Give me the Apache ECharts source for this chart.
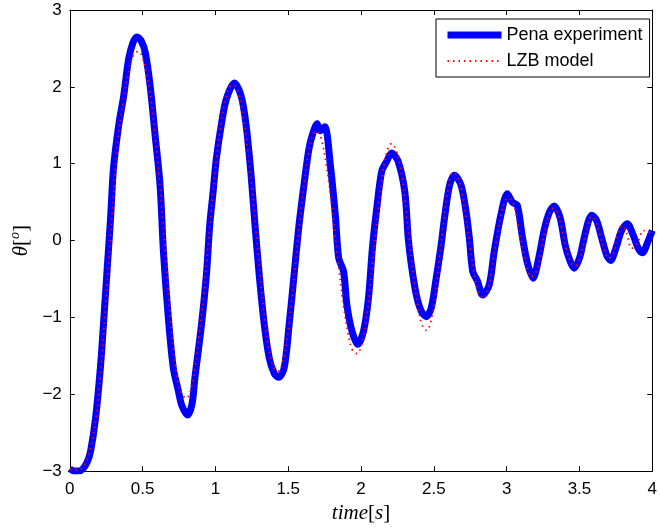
<!DOCTYPE html>
<html>
<head>
<meta charset="utf-8">
<script src="https://cdn.jsdelivr.net/npm/echarts@6/dist/echarts.min.js"></script>
<style>html,body{margin:0;padding:0;background:#fff}#c{width:660px;height:529px}</style>
</head>
<body>
<div id="c"></div>
<script>
var xTicks = [0, 0.5, 1, 1.5, 2, 2.5, 3, 3.5, 4];
var yTicks = [-3, -2, -1, 0, 1, 2, 3];
var seriesNames = ['Pena experiment', 'LZB model'];

var penaT = [0,0.03,0.06,0.09,0.12,0.143,0.177,0.21,0.234,0.257,0.28,0.30,0.336,0.37,0.404,0.435,0.461,0.49,0.518,0.552,0.586,0.62,0.643,0.677,0.711,0.745,0.77,0.81,0.84,0.859,0.904,0.938,0.961,0.984,1.006,1.04,1.075,1.131,1.177,1.211,1.245,1.272,1.301,1.336,1.37,1.404,1.433,1.472,1.506,1.54,1.574,1.608,1.642,1.67,1.699,1.72,1.751,1.79,1.824,1.847,1.88,1.903,1.938,1.978,2.017,2.051,2.078,2.108,2.142,2.176,2.21,2.255,2.301,2.324,2.346,2.38,2.414,2.448,2.482,2.516,2.55,2.573,2.608,2.642,2.687,2.721,2.744,2.767,2.8,2.835,2.88,2.914,2.96,3.005,3.039,3.073,3.107,3.141,3.182,3.22,3.259,3.296,3.327,3.368,3.402,3.436,3.463,3.5,3.527,3.561,3.584,3.618,3.653,3.687,3.714,3.75,3.789,3.828,3.869,3.903,3.932,3.971,4.0];
var penaV = [-2.97,-3.0,-3.0,-2.97,-2.88,-2.74,-2.31,-1.66,-1.01,-0.36,0.29,0.94,1.5,1.88,2.36,2.58,2.65,2.6,2.45,2.01,1.37,0.72,-0.14,-1.01,-1.66,-1.95,-2.15,-2.27,-2.12,-1.79,-1.1,-0.45,0.2,0.63,1.06,1.5,1.84,2.05,1.88,1.5,0.85,0.2,-0.45,-1.1,-1.53,-1.73,-1.78,-1.66,-1.1,-0.45,0.2,0.72,1.19,1.40,1.52,1.43,1.48,0.97,0.32,-0.23,-0.4,-0.84,-1.18,-1.35,-1.18,-0.75,-0.1,0.42,0.9,1.03,1.14,1.03,0.63,0.03,-0.32,-0.71,-0.92,-0.99,-0.88,-0.49,-0.06,0.29,0.72,0.85,0.72,0.38,0.03,-0.4,-0.53,-0.71,-0.58,-0.15,0.33,0.61,0.5,0.46,0.06,-0.28,-0.49,-0.23,0.15,0.38,0.45,0.29,-0.06,-0.27,-0.36,-0.23,-0.01,0.25,0.33,0.26,0.03,-0.19,-0.26,-0.1,0.13,0.22,0.07,-0.1,-0.16,-0.01,0.13];

var lzbT = [0,0.06,0.1,0.14,0.18,0.21,0.24,0.27,0.30,0.33,0.37,0.41,0.44,0.47,0.50,0.53,0.56,0.59,0.62,0.65,0.68,0.71,0.74,0.77,0.80,0.83,0.86,0.89,0.92,0.95,0.98,1.01,1.04,1.07,1.10,1.13,1.16,1.19,1.22,1.25,1.28,1.31,1.34,1.37,1.40,1.43,1.46,1.49,1.52,1.55,1.58,1.61,1.64,1.67,1.70,1.73,1.76,1.79,1.82,1.85,1.88,1.91,1.94,1.97,2.00,2.03,2.06,2.09,2.12,2.15,2.18,2.21,2.24,2.27,2.30,2.33,2.36,2.39,2.42,2.45,2.48,2.51,2.54,2.57,2.60,2.63,2.66,2.69,2.72,2.75,2.78,2.81,2.84,2.87,2.90,2.93,2.96,2.99,3.02,3.05,3.08,3.11,3.14,3.17,3.20,3.23,3.26,3.29,3.32,3.35,3.38,3.41,3.44,3.47,3.50,3.53,3.56,3.58,3.61,3.64,3.67,3.70,3.73,3.76,3.79,3.82,3.86,3.90,3.94,3.97,4.00];
var lzbV = [-2.98,-2.98,-2.92,-2.72,-2.3,-1.75,-1.0,-0.2,0.6,1.3,1.85,2.25,2.42,2.46,2.38,2.15,1.8,1.3,0.7,0.0,-0.75,-1.4,-1.8,-2.0,-2.05,-1.95,-1.65,-1.2,-0.7,-0.05,0.55,1.1,1.55,1.85,2.0,2.02,1.9,1.62,1.2,0.7,0.1,-0.5,-1.05,-1.45,-1.65,-1.7,-1.6,-1.3,-0.85,-0.3,0.25,0.75,1.15,1.38,1.42,1.3,1.0,0.6,0.1,-0.4,-0.85,-1.2,-1.42,-1.47,-1.38,-1.1,-0.65,-0.1,0.45,0.9,1.17,1.26,1.18,0.95,0.55,0.05,-0.45,-0.85,-1.1,-1.17,-1.05,-0.7,-0.2,0.3,0.7,0.88,0.85,0.65,0.3,-0.1,-0.45,-0.68,-0.75,-0.65,-0.35,0.0,0.32,0.52,0.55,0.45,0.2,-0.1,-0.35,-0.47,-0.42,-0.2,0.1,0.33,0.42,0.36,0.15,-0.1,-0.28,-0.33,-0.25,-0.03,0.22,0.31,0.26,0.08,-0.12,-0.23,-0.18,0.05,0.19,0.12,-0.1,-0.02,0.13,0.12,0.08];

function pairs(t, v) { var out = []; for (var i = 0; i < t.length; i++) out.push([t[i], v[i]]); return out; }
function fmt(v) { var s = String(v); return s.charAt(0) === '-' ? '\u2212' + s.slice(1) : s; }

var FONT = 'Liberation Sans';
var SERIF = 'Liberation Serif';
var axisLineStyle = { color: '#000', width: 1 };
var blueLine = { color: '#0000ff', width: 7, cap: 'butt', join: 'round' };
var redLine = { color: '#ff0000', width: 1.8, type: [1.5, 4] };

var chart = echarts.init(document.getElementById('c'), null, { renderer: 'canvas' });
chart.setOption({
  animation: false,
  backgroundColor: '#fff',
  grid: { left: 69, right: 4, top: 10, bottom: 57, containLabel: false },
  legend: {
    orient: 'vertical', left: 436, top: 19,
    padding: [7, 7, 7, 8],
    itemWidth: 54, itemHeight: 14, itemGap: 8,
    borderColor: '#000', borderWidth: 1, backgroundColor: '#fff', borderRadius: 0,
    textStyle: { fontFamily: FONT, fontSize: 18, color: '#000' },
    data: [
      { name: seriesNames[0], itemStyle: { opacity: 0 }, lineStyle: { color: '#0000ff', width: 7, type: 'solid' } },
      { name: seriesNames[1], itemStyle: { opacity: 0 }, lineStyle: { color: '#ff0000', width: 1.8, type: [1.5, 4] } }
    ]
  },
  xAxis: [{
    type: 'value', min: xTicks[0], max: xTicks[xTicks.length - 1], interval: 0.5,
    position: 'bottom',
    axisLine: { show: true, onZero: false, lineStyle: axisLineStyle },
    axisTick: { show: true, inside: true, length: 5, lineStyle: axisLineStyle },
    splitLine: { show: false },
    axisLabel: { fontFamily: FONT, fontSize: 17, color: '#000', margin: 10, formatter: fmt },
    name: '{i|time}{r|[}{i|s}{r|]}', nameLocation: 'middle', nameGap: 31,
    nameTextStyle: { rich: {
      i: { fontFamily: SERIF, fontStyle: 'italic', fontSize: 21, color: '#000' },
      r: { fontFamily: SERIF, fontSize: 21, color: '#000' } } }
  }, {
    type: 'value', min: xTicks[0], max: xTicks[xTicks.length - 1], interval: 0.5,
    position: 'top',
    axisLine: { show: true, onZero: false, lineStyle: axisLineStyle },
    axisTick: { show: true, inside: true, length: 5, lineStyle: axisLineStyle },
    splitLine: { show: false }, axisLabel: { show: false }
  }],
  yAxis: [{
    type: 'value', min: yTicks[0], max: yTicks[yTicks.length - 1], interval: 1,
    position: 'left',
    axisLine: { show: true, onZero: false, lineStyle: axisLineStyle },
    axisTick: { show: true, inside: true, length: 5, lineStyle: axisLineStyle },
    splitLine: { show: false },
    axisLabel: { fontFamily: FONT, fontSize: 17, color: '#000', margin: 8, formatter: fmt },
    name: '{t|\u03b8}{r|[}{s|o}{r|]}', nameLocation: 'middle', nameGap: 35, nameRotate: 90,
    nameTextStyle: { rich: {
      t: { fontFamily: SERIF, fontStyle: 'italic', fontSize: 21, color: '#000' },
      r: { fontFamily: SERIF, fontSize: 21, color: '#000' },
      s: { fontFamily: SERIF, fontStyle: 'italic', fontSize: 14, color: '#000', padding: [0, 0, 12, 0] } } }
  }, {
    type: 'value', min: yTicks[0], max: yTicks[yTicks.length - 1], interval: 1,
    position: 'right',
    axisLine: { show: true, onZero: false, lineStyle: axisLineStyle },
    axisTick: { show: true, inside: true, length: 5, lineStyle: axisLineStyle },
    splitLine: { show: false }, axisLabel: { show: false }
  }],
  series: [{
    name: seriesNames[0], type: 'line', xAxisIndex: 0, yAxisIndex: 0,
    data: pairs(penaT, penaV), showSymbol: false, symbol: 'none', smooth: 0.3,
    lineStyle: blueLine, itemStyle: { color: '#0000ff' }, z: 2
  }, {
    name: seriesNames[1], type: 'line', xAxisIndex: 0, yAxisIndex: 0,
    data: pairs(lzbT, lzbV), showSymbol: false, symbol: 'none', smooth: 0.4,
    lineStyle: redLine, itemStyle: { color: '#ff0000' }, z: 3
  }]
});
</script>
</body>
</html>
